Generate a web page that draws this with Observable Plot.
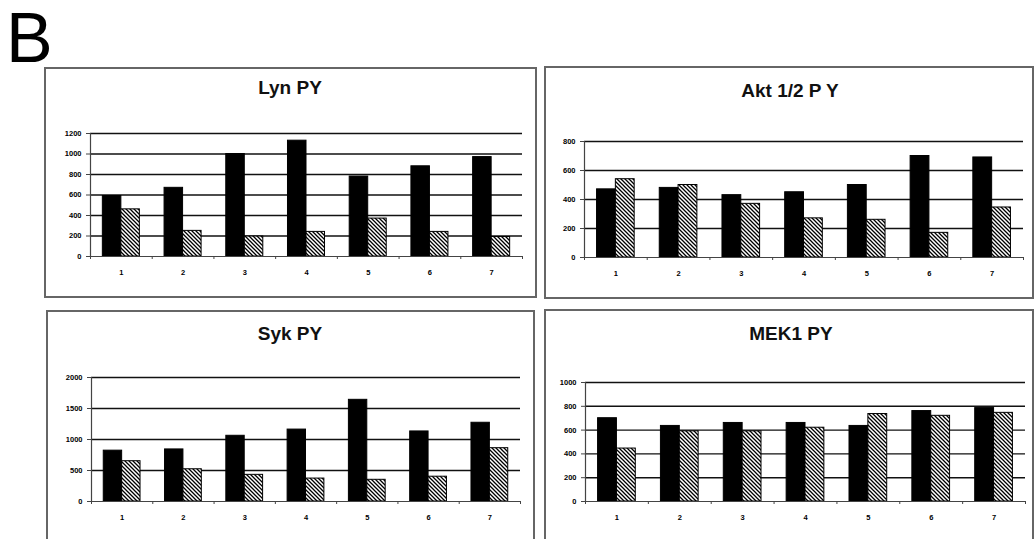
<!DOCTYPE html>
<html><head><meta charset="utf-8">
<script src="https://cdn.jsdelivr.net/npm/d3@7"></script>
<script src="https://cdn.jsdelivr.net/npm/@observablehq/plot@0.6"></script>
<style>
html,body{margin:0;padding:0;background:#fff;}
#root{position:relative;width:1035px;height:539px;overflow:hidden;font-family:"Liberation Sans",Arial,sans-serif;background:#fff;}
.letter{position:absolute;left:6px;top:3px;font-size:70px;line-height:70px;color:#000;}
.box{position:absolute;border:2px solid #666;box-sizing:border-box;}
.title{position:absolute;font-weight:bold;font-size:19px;line-height:19px;transform:translateX(-50%);white-space:nowrap;color:#111;}
#root svg{position:absolute;overflow:visible;}
</style></head><body><div id="root"></div>
<script>
// ---- data ----
const categories = [1, 2, 3, 4, 5, 6, 7];
const boundaries = [0.5, 1.5, 2.5, 3.5, 4.5, 5.5, 6.5, 7.5];

const lynSolid   = [590, 670, 1000, 1130, 780, 880, 970];
const lynHatched = [460, 250, 195, 240, 370, 240, 190];
const lynTicks   = [0, 200, 400, 600, 800, 1000, 1200];

const aktSolid   = [470, 480, 430, 450, 500, 700, 690];
const aktHatched = [540, 500, 370, 270, 260, 170, 345];
const aktTicks   = [0, 200, 400, 600, 800];

const sykSolid   = [820, 840, 1060, 1160, 1640, 1130, 1270];
const sykHatched = [650, 520, 430, 370, 350, 400, 860];
const sykTicks   = [0, 500, 1000, 1500, 2000];

const mekSolid   = [700, 635, 660, 660, 635, 760, 785];
const mekHatched = [445, 590, 590, 620, 735, 720, 745];
const mekTicks   = [0, 200, 400, 600, 800, 1000];

const titles = ["Lyn PY", "Akt 1/2 P Y", "Syk PY", "MEK1 PY"];
const panelLetter = "B";

// ---- layout (page pixels) ----
const layout = [
  {box:{left:44, top:67, w:493, h:231}, plot:{left:90, right:522, y0:256, top:133}, title:{cx:290, top:78}},
  {box:{left:544, top:66, w:490, h:233}, plot:{left:584, right:1023, y0:257, top:141}, title:{cx:790, top:81}},
  {box:{left:46, top:310, w:489, h:245}, plot:{left:91, right:520, y0:501, top:377}, title:{cx:290, top:324}},
  {box:{left:544, top:309, w:490, h:245}, plot:{left:585, right:1025, y0:501, top:382}, title:{cx:791, top:324}}
];

const panels = [
  {solid: lynSolid, hatched: lynHatched, ticks: lynTicks},
  {solid: aktSolid, hatched: aktHatched, ticks: aktTicks},
  {solid: sykSolid, hatched: sykHatched, ticks: sykTicks},
  {solid: mekSolid, hatched: mekHatched, ticks: mekTicks}
];

const root = document.getElementById("root");
const letter = document.createElement("div");
letter.className = "letter";
letter.textContent = panelLetter;
root.appendChild(letter);

const halfBar = 0.3;

panels.forEach((p, i) => {
  const L = layout[i];
  const box = document.createElement("div");
  box.className = "box";
  Object.assign(box.style, {left: L.box.left + "px", top: L.box.top + "px", width: L.box.w + "px", height: L.box.h + "px"});
  root.appendChild(box);

  const solidData = categories.map((c, k) => ({cat: c, value: p.solid[k]}));
  const hatchData = categories.map((c, k) => ({cat: c, value: p.hatched[k]}));
  const patId = "hatch-" + i;
  const maxY = p.ticks[p.ticks.length - 1];

  const svg = Plot.plot({
    width: L.box.w,
    height: L.box.h,
    marginLeft: L.plot.left - L.box.left,
    marginRight: L.box.left + L.box.w - L.plot.right,
    marginTop: L.plot.top - L.box.top,
    marginBottom: L.box.top + L.box.h - L.plot.y0,
    x: {type: "linear", domain: [0.5, 7.5], label: null},
    y: {domain: [0, maxY], label: null},
    style: {fontFamily: '"Liberation Sans", Arial, sans-serif', fontSize: "7.5px", fontWeight: "bold", color: "#000", background: "transparent", overflow: "visible"},
    marks: [
      Plot.ruleY(p.ticks.filter(t => t > 0), {stroke: "#111", strokeWidth: 1.4}),
      Plot.rectY(solidData, {x1: d => d.cat - halfBar, x2: d => d.cat, y: "value", fill: "#000", stroke: "#000", strokeWidth: 1}),
      Plot.rectY(hatchData, {x1: d => d.cat, x2: d => d.cat + halfBar, y: "value", fill: `url(#${patId})`, stroke: "#000", strokeWidth: 1}),
      Plot.ruleY([0], {stroke: "#444", strokeWidth: 1.2}),
      Plot.ruleX([0.5], {stroke: "#444", strokeWidth: 1.2}),
      Plot.axisY({ticks: p.ticks, tickSize: 4, tickPadding: 5, tickFormat: d => String(d), stroke: "#444", label: null}),
      Plot.axisX({ticks: boundaries, tickSize: 3, tickFormat: () => "", stroke: "#444", label: null}),
      Plot.axisX({ticks: categories, tickSize: 0, tickPadding: 13, tickFormat: d => String(d), label: null})
    ]
  });

  const defs = d3.select(svg).insert("defs", ":first-child");
  const pat = defs.append("pattern").attr("id", patId).attr("patternUnits", "userSpaceOnUse").attr("width", 4).attr("height", 4);
  pat.append("rect").attr("width", 4).attr("height", 4).attr("fill", "#fff");
  pat.append("path").attr("d", "M-1,-1L5,5M-1,3L1,5M3,-1L5,1").attr("stroke", "#000").attr("stroke-width", 1.3);

  svg.style.left = L.box.left + "px";
  svg.style.top = L.box.top + "px";
  root.appendChild(svg);

  const t = document.createElement("div");
  t.className = "title";
  t.textContent = titles[i];
  Object.assign(t.style, {left: L.title.cx + "px", top: L.title.top + "px"});
  root.appendChild(t);
});
</script>
</body></html>
